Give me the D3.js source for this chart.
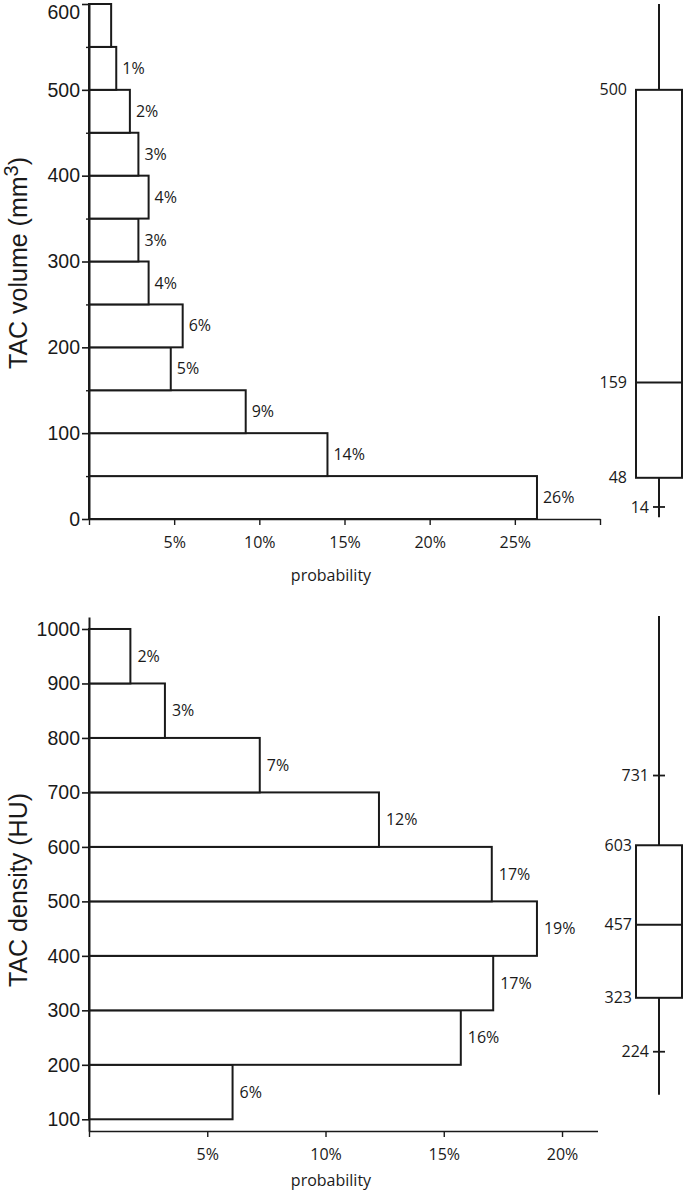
<!DOCTYPE html>
<html>
<head>
<meta charset="utf-8">
<script src="https://cdn.jsdelivr.net/npm/d3@7"></script>
<style>
  html, body { margin: 0; padding: 0; background: #fff; }
  svg { display: block; }
</style>
</head>
<body>
<svg id="chart" width="685" height="1192"></svg>
<script>
// ---------- DATA ----------
// Top panel: TAC volume (mm3)
const volBinStart = [0, 50, 100, 150, 200, 250, 300, 350, 400, 450, 500, 550];
const volBinWidth = 50;
const volProb = [26.3, 14.0, 9.2, 4.8, 5.5, 3.5, 2.9, 3.5, 2.9, 2.4, 1.6, 1.3];
const volLabels = ["26%", "14%", "9%", "5%", "6%", "4%", "3%", "4%", "3%", "2%", "1%", ""];
const volYTicks = [0, 100, 200, 300, 400, 500, 600];
const volYMinorTicks = [50, 150, 250, 350, 450, 550];
const volXTicks = [0, 5, 10, 15, 20, 25, 30];
const volXTickLabels = ["", "5%", "10%", "15%", "20%", "25%", ""];
const volWhisker = [2, 600];
const volBox = [48, 159, 500];      // q1, median, q3
const volMarks = [14];              // tick marks on whisker

// Bottom panel: TAC density (HU)
const denBinStart = [100, 200, 300, 400, 500, 600, 700, 800, 900];
const denBinWidth = 100;
const denProb = [6.07, 15.72, 17.09, 18.94, 17.03, 12.26, 7.22, 3.21, 1.75];
const denLabels = ["6%", "16%", "17%", "19%", "17%", "12%", "7%", "3%", "2%"];
const denYTicks = [100, 200, 300, 400, 500, 600, 700, 800, 900, 1000];
const denXTicks = [0, 5, 10, 15, 20];
const denXTickLabels = ["", "5%", "10%", "15%", "20%"];
const denWhisker = [145, 1024];
const denBox = [323, 457, 603];
const denMarks = [224, 731];

// ---------- DRAWING ----------
const svg = d3.select("#chart");
const INK = "#1a1a1a";
const labelFont = "'Open Sans', sans-serif";
const tickFont = "'Liberation Sans', Arial, sans-serif";

function panel(cfg) {
  const g = svg.append("g");
  const x = d3.scaleLinear().domain(cfg.xDomain).range(cfg.xRange);
  const y = d3.scaleLinear().domain(cfg.yDomain).range(cfg.yRange);

  // bars
  g.selectAll("rect.bar").data(cfg.bins).join("rect")
    .attr("class", "bar")
    .attr("x", x(0))
    .attr("y", (d) => y(d + cfg.binWidth))
    .attr("width", (d, i) => x(cfg.prob[i]) - x(0))
    .attr("height", (d) => y(d) - y(d + cfg.binWidth))
    .attr("fill", "#fff")
    .attr("stroke", INK)
    .attr("stroke-width", 2);

  // bar labels
  g.selectAll("text.blab").data(cfg.bins).join("text")
    .attr("class", "blab")
    .attr("x", (d, i) => x(cfg.prob[i]) + cfg.labelGap)
    .attr("y", (d) => y(d + cfg.binWidth / 2))
    .attr("dy", "0.35em")
    .attr("font-family", labelFont)
    .attr("font-size", 16)
    .attr("fill", INK)
    .text((d, i) => cfg.labels[i]);

  // y axis
  const yAxis = g.append("g")
    .attr("transform", `translate(${x(0)},0)`)
    .call(d3.axisLeft(y).tickValues(cfg.yTicks).tickSize(7).tickPadding(2).tickSizeOuter(0).tickFormat(d3.format("d")));
  yAxis.select(".domain").attr("stroke", INK).attr("stroke-width", 2);
  yAxis.selectAll(".tick line").attr("stroke", INK).attr("stroke-width", 1.6);
  yAxis.selectAll(".tick text").attr("font-family", tickFont).attr("font-size", 19.5).attr("fill", INK)
    .attr("dy", (d) => (y(d) < 10 ? "0.75em" : "0.32em"));

  if (cfg.yMinor) {
    const ym = g.append("g")
      .attr("transform", `translate(${x(0)},0)`)
      .call(d3.axisLeft(y).tickValues(cfg.yMinor).tickSize(3).tickFormat(""));
    ym.select(".domain").remove();
    ym.selectAll(".tick line").attr("stroke", INK).attr("stroke-width", 1.4);
  }

  // x axis
  const xAxis = g.append("g")
    .attr("transform", `translate(0,${cfg.yRange[0]})`)
    .call(d3.axisBottom(x).tickValues(cfg.xTicks).tickSize(6).tickPadding(11.5).tickSizeOuter(0)
      .tickFormat((d, i) => cfg.xTickLabels[i]));
  xAxis.select(".domain").attr("stroke", INK).attr("stroke-width", 1.6);
  xAxis.selectAll(".tick line").attr("stroke", INK).attr("stroke-width", 1.4);
  xAxis.selectAll(".tick text").attr("font-family", labelFont).attr("font-size", 16).attr("fill", INK);

  // x title
  g.append("text")
    .attr("x", 331).attr("y", cfg.xTitleY)
    .attr("text-anchor", "middle")
    .attr("font-family", labelFont).attr("font-size", 16).attr("fill", INK)
    .text("probability");

  // y title
  const yt = g.append("text")
    .attr("transform", `translate(${cfg.yTitleX},${cfg.yTitleY}) rotate(-90)`)
    .attr("text-anchor", "middle")
    .attr("font-family", tickFont).attr("font-size", 25).attr("fill", INK);
  yt.append("tspan").text(cfg.yTitle[0]);
  if (cfg.yTitle[1]) {
    yt.append("tspan").attr("font-size", 20).attr("dy", "-0.45em").text(cfg.yTitle[1]);
    yt.append("tspan").attr("dy", "0.36em").text(cfg.yTitle[2]);
  }

  // box plot
  const cx = 659, hw = 23;
  const bg = g.append("g");
  bg.append("line")
    .attr("x1", cx).attr("x2", cx)
    .attr("y1", y(cfg.whisker[0])).attr("y2", y(cfg.whisker[1]))
    .attr("stroke", INK).attr("stroke-width", 2);
  bg.append("rect")
    .attr("x", cx - hw).attr("width", hw * 2)
    .attr("y", y(cfg.box[2])).attr("height", y(cfg.box[0]) - y(cfg.box[2]))
    .attr("fill", "#fff").attr("stroke", INK).attr("stroke-width", 2);
  bg.append("line")
    .attr("x1", cx - hw).attr("x2", cx + hw)
    .attr("y1", y(cfg.box[1])).attr("y2", y(cfg.box[1]))
    .attr("stroke", INK).attr("stroke-width", 2);
  bg.selectAll("line.mk").data(cfg.marks).join("line")
    .attr("class", "mk")
    .attr("x1", cx - 6).attr("x2", cx + 6)
    .attr("y1", (d) => y(d)).attr("y2", (d) => y(d))
    .attr("stroke", INK).attr("stroke-width", 1.8);
  bg.selectAll("text.bxl").data(cfg.box).join("text")
    .attr("class", "bxl")
    .attr("x", cx - hw - cfg.boxLabelGap)
    .attr("y", (d) => y(d)).attr("dy", "0.35em")
    .attr("text-anchor", "end")
    .attr("font-family", labelFont).attr("font-size", 16).attr("fill", INK)
    .text((d) => d);
  bg.selectAll("text.mkl").data(cfg.marks).join("text")
    .attr("class", "mkl")
    .attr("x", cx - 10)
    .attr("y", (d) => y(d)).attr("dy", "0.35em")
    .attr("text-anchor", "end")
    .attr("font-family", labelFont).attr("font-size", 16).attr("fill", INK)
    .text((d) => d);
}

panel({
  bins: volBinStart, binWidth: volBinWidth, prob: volProb, labels: volLabels,
  xDomain: [0, 30], xRange: [89, 600],
  yDomain: [0, 600], yRange: [519, 4],
  yTicks: volYTicks, yMinor: volYMinorTicks,
  xTicks: volXTicks, xTickLabels: volXTickLabels,
  labelGap: 6, xTitleY: 581,
  yTitle: ["TAC volume (mm", "3", ")"], yTitleX: 27, yTitleY: 263,
  whisker: volWhisker, box: volBox, marks: volMarks, boxLabelGap: 9
});

panel({
  bins: denBinStart, binWidth: denBinWidth, prob: denProb, labels: denLabels,
  xDomain: [0, 21.5], xRange: [89, 597.5],
  yDomain: [78.5, 1022], yRange: [1131, 617],
  yTicks: denYTicks, yMinor: null,
  xTicks: denXTicks, xTickLabels: denXTickLabels,
  labelGap: 7, xTitleY: 1186,
  yTitle: ["TAC density (HU)"], yTitleX: 27, yTitleY: 890,
  whisker: denWhisker, box: denBox, marks: denMarks, boxLabelGap: 4
});
</script>
</body>
</html>
